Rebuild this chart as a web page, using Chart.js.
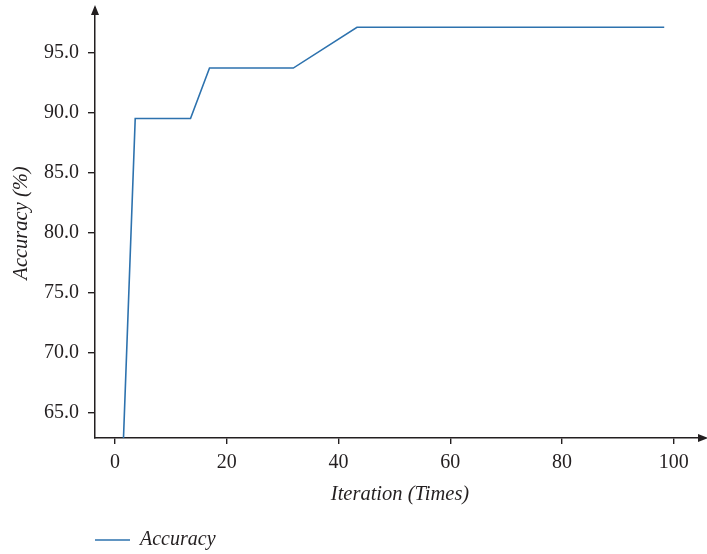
<!DOCTYPE html>
<html>
<head>
<meta charset="utf-8">
<script src="https://cdn.jsdelivr.net/npm/chart.js@4/dist/chart.umd.min.js"></script>
<style>
  html, body { margin: 0; padding: 0; background: #ffffff; }
  #wrap { width: 707px; height: 554px; position: relative; }
</style>
</head>
<body>
<div id="wrap"><canvas id="c"></canvas></div>
<script>
const iterations = [1.5, 3.6, 13.5, 16.9, 31.9, 43.3, 98.3];
const accuracy   = [62.9, 89.5, 89.5, 93.7, 93.7, 97.1, 97.1];
const xTicks = [0, 20, 40, 60, 80, 100];
const yTicks = [65, 70, 75, 80, 85, 90, 95];
const seriesName = 'Accuracy';
const xTitle = 'Iteration (Times)';
const yTitle = 'Accuracy (%)';

const AXIS = '#231f20';
const LINE = '#2d72ae';
const FONT = "'Liberation Serif', 'DejaVu Serif', serif";

const arrowPlugin = {
  id: 'arrows',
  afterDraw(chart) {
    const {ctx, chartArea: a} = chart;
    ctx.save();
    ctx.fillStyle = AXIS;
    // y arrow (top)
    ctx.beginPath();
    ctx.moveTo(a.left, a.top - 3);
    ctx.lineTo(a.left - 4, a.top + 7);
    ctx.lineTo(a.left + 4, a.top + 7);
    ctx.closePath();
    ctx.fill();
    // x arrow (right)
    ctx.beginPath();
    ctx.moveTo(a.right + 3, a.bottom);
    ctx.lineTo(a.right - 7, a.bottom - 4);
    ctx.lineTo(a.right - 7, a.bottom + 4);
    ctx.closePath();
    ctx.fill();
    ctx.restore();
  }
};

new Chart(document.getElementById('c'), {
  type: 'line',
  data: {
    datasets: [{
      label: seriesName,
      data: iterations.map((x, i) => ({x: x, y: accuracy[i]})),
      borderColor: LINE,
      backgroundColor: LINE,
      borderWidth: 1.6,
      pointRadius: 0,
      tension: 0,
      fill: false
    }]
  },
  options: {
    responsive: true,
    maintainAspectRatio: false,
    animation: false,
    layout: { padding: { top: 8, bottom: -6, left: 0, right: 2 } },
    plugins: {
      legend: {
        position: 'bottom',
        align: 'start',
        fullSize: false,
        labels: {
          usePointStyle: true,
          pointStyle: 'line',
          pointStyleWidth: 35,
          boxWidth: 35,
          padding: 0,
          color: AXIS,
          font: { family: FONT, size: 20, style: 'italic' }
        }
      },
      tooltip: { enabled: false }
    },
    scales: {
      x: {
        type: 'linear',
        min: -3.6,
        max: 105.6,
        afterBuildTicks(scale) { scale.ticks = xTicks.map(v => ({value: v})); },
        afterFit(scale) { scale.height = 92; scale.paddingLeft = 0; scale.paddingRight = 0; },
        border: { display: true, color: AXIS, width: 1.5 },
        grid: { display: true, drawOnChartArea: false, drawTicks: true, tickLength: 6, color: AXIS, lineWidth: 1.4 },
        ticks: { color: AXIS, padding: 6.5, font: { family: FONT, size: 20 } },
        title: { display: true, text: xTitle, color: AXIS, padding: { top: 0, bottom: 22.7 }, font: { family: FONT, size: 20.5, style: 'italic' } }
      },
      y: {
        type: 'linear',
        min: 62.9,
        max: 98.7,
        afterBuildTicks(scale) { scale.ticks = yTicks.map(v => ({value: v})); },
        afterFit(scale) { scale.width = 95; scale.paddingTop = 0; scale.paddingBottom = 0; },
        border: { display: true, color: AXIS, width: 1.5 },
        grid: { display: true, drawOnChartArea: false, drawTicks: true, tickLength: 7, color: AXIS, lineWidth: 1.4 },
        ticks: { color: AXIS, padding: 9, font: { family: FONT, size: 20 }, callback: v => Number(v).toFixed(1) },
        title: { display: true, text: yTitle, color: AXIS, padding: { top: 9.7, bottom: 0 }, font: { family: FONT, size: 20.5, style: 'italic' } }
      }
    }
  },
  plugins: [arrowPlugin]
});
</script>
</body>
</html>
